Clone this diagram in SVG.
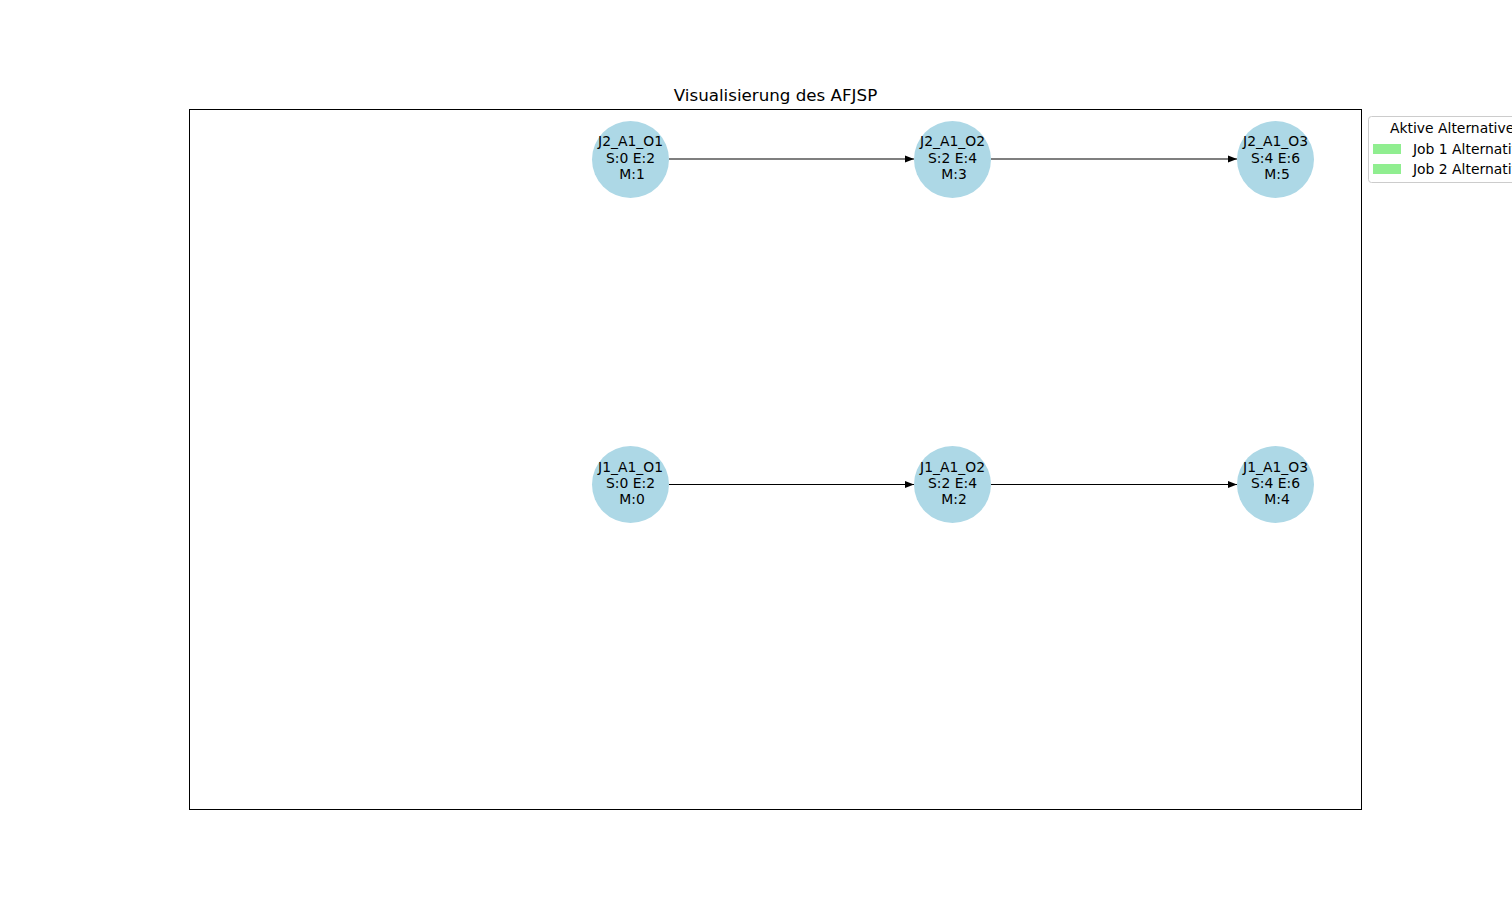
<svg xmlns="http://www.w3.org/2000/svg" width="1512" height="909" viewBox="0 0 1512 909">
<defs>
<marker id="arr" viewBox="0 0 10 10" refX="10" refY="5" markerWidth="9" markerHeight="9" markerUnits="userSpaceOnUse" orient="auto">
<path d="M0,1 L10,5 L0,9 z" fill="#000"/>
</marker>
<style>
.node circle{fill:#add8e6;}
.node text{font-family:"DejaVu Sans",sans-serif;font-size:13.9px;fill:#000;text-anchor:middle;}
.edge{stroke:#000;stroke-width:1.2;fill:none;marker-end:url(#arr);}
.leg{font-family:"DejaVu Sans",sans-serif;font-size:13.9px;fill:#000;}
</style>
</defs>
<rect width="1512" height="909" fill="#fff"/>
<rect x="189.5" y="109.5" width="1172" height="700" fill="none" stroke="#000" stroke-width="1"/>
<text x="775.5" y="101" font-family="DejaVu Sans, sans-serif" font-size="16.7" text-anchor="middle">Visualisierung des AFJSP</text>
<g id="connectors">
<line class="edge" x1="669" y1="159" x2="914" y2="159"/>
<line class="edge" x1="991" y1="159" x2="1237" y2="159"/>
<line class="edge" x1="669" y1="484.5" x2="914" y2="484.5"/>
<line class="edge" x1="991" y1="484.5" x2="1237" y2="484.5"/>
</g>
<g id="J2_A1_O1" class="node"><circle cx="630.5" cy="159.5" r="38.5"/><text x="630.5" y="146">J2_A1_O1</text><text x="630.5" y="163">S:0 E:2</text><text x="632" y="179">M:1</text></g>
<g id="J2_A1_O2" class="node"><circle cx="952.5" cy="159.5" r="38.5"/><text x="952.5" y="146">J2_A1_O2</text><text x="952.5" y="163">S:2 E:4</text><text x="954" y="179">M:3</text></g>
<g id="J2_A1_O3" class="node"><circle cx="1275.5" cy="159.5" r="38.5"/><text x="1275.5" y="146">J2_A1_O3</text><text x="1275.5" y="163">S:4 E:6</text><text x="1277" y="179">M:5</text></g>
<g id="J1_A1_O1" class="node"><circle cx="630.5" cy="484.5" r="38.5"/><text x="630.5" y="472">J1_A1_O1</text><text x="630.5" y="488">S:0 E:2</text><text x="632" y="504">M:0</text></g>
<g id="J1_A1_O2" class="node"><circle cx="952.5" cy="484.5" r="38.5"/><text x="952.5" y="472">J1_A1_O2</text><text x="952.5" y="488">S:2 E:4</text><text x="954" y="504">M:2</text></g>
<g id="J1_A1_O3" class="node"><circle cx="1275.5" cy="484.5" r="38.5"/><text x="1275.5" y="472">J1_A1_O3</text><text x="1275.5" y="488">S:4 E:6</text><text x="1277" y="504">M:4</text></g>
<g id="legend">
<rect x="1368.5" y="116.5" width="170" height="66" rx="3" fill="#fff" fill-opacity="0.8" stroke="#ccc" stroke-width="1"/>
<text class="leg" x="1390" y="133">Aktive Alternativen</text>
<rect x="1373" y="144" width="28" height="10" fill="#90ee90"/>
<text class="leg" x="1413" y="154">Job 1 Alternative</text>
<rect x="1373" y="164" width="28" height="10" fill="#90ee90"/>
<text class="leg" x="1413" y="174">Job 2 Alternative</text>
</g>
</svg>
